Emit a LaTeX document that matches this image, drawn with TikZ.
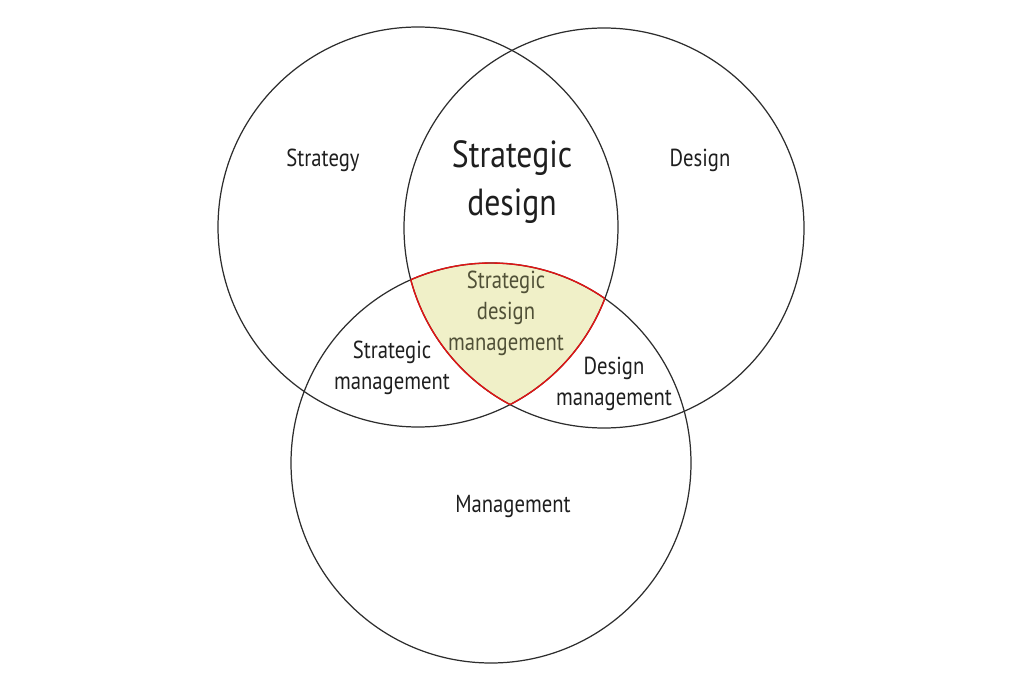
\documentclass[tikz,border=0pt]{standalone}
\usepackage{fontspec}
\setmainfont[FakeStretch=0.84]{PT Sans}
\usepackage{tikz}
\usetikzlibrary{positioning}
\definecolor{vnline}{RGB}{45, 45, 45}
\definecolor{vntext}{RGB}{30, 30, 30}
\definecolor{vnfill}{RGB}{240, 240, 200}
\definecolor{vnolive}{RGB}{80, 80, 55}
\definecolor{vnred}{RGB}{225, 20, 20}

\begin{document}
\begin{tikzpicture}[x=0.02cm, y=-0.02cm,
    setname/.style={font=\fontsize{14}{17.6}\selectfont, text=vntext, align=center, inner sep=0pt},
    bigname/.style={font=\fontsize{21.5}{27}\selectfont, text=vntext, align=center, inner sep=0pt}]
  \useasboundingbox (0,0) rectangle (1024,689);
  \coordinate (strategy) at (418,227);
  \coordinate (design) at (604,228);
  \coordinate (management) at (491,463);

  % Common region of all three sets
  \begin{scope}
    \clip (strategy) circle (200);
    \clip (design) circle (200);
    \fill[vnfill] (management) circle (200);
  \end{scope}

  % The three sets
  \draw[vnline, line width=0.7pt] (strategy) circle (200);
  \draw[vnline, line width=0.7pt] (design) circle (200);
  \draw[vnline, line width=0.7pt] (management) circle (200);

  % Red outline of the common region
  \begin{scope}
    \clip (strategy) circle (200);
    \clip (design) circle (200);
    \draw[vnred, line width=0.8pt] (management) circle (200);
  \end{scope}
  \begin{scope}
    \clip (strategy) circle (200);
    \clip (management) circle (200);
    \draw[vnred, line width=0.8pt] (design) circle (200);
  \end{scope}
  \begin{scope}
    \clip (design) circle (200);
    \clip (management) circle (200);
    \draw[vnred, line width=0.8pt] (strategy) circle (200);
  \end{scope}

  % Labels
  \node[setname] (strat) at (323,160) {Strategy};
  \node[setname] (des) at (700,160) {Design};
  \node[setname] (mgmt) at (513,506) {Management};
  \node[bigname] (stratdes) at (512,182) {Strategic\\design};
  \node[setname] (stratmgmt) at (392,368) {Strategic\\management};
  \node[setname] (desmgmt) at (614,384) {Design\\management};
  \node[setname, text=vnolive] (all) at (506,313) {Strategic\\design\\management};
\end{tikzpicture}
\end{document}
